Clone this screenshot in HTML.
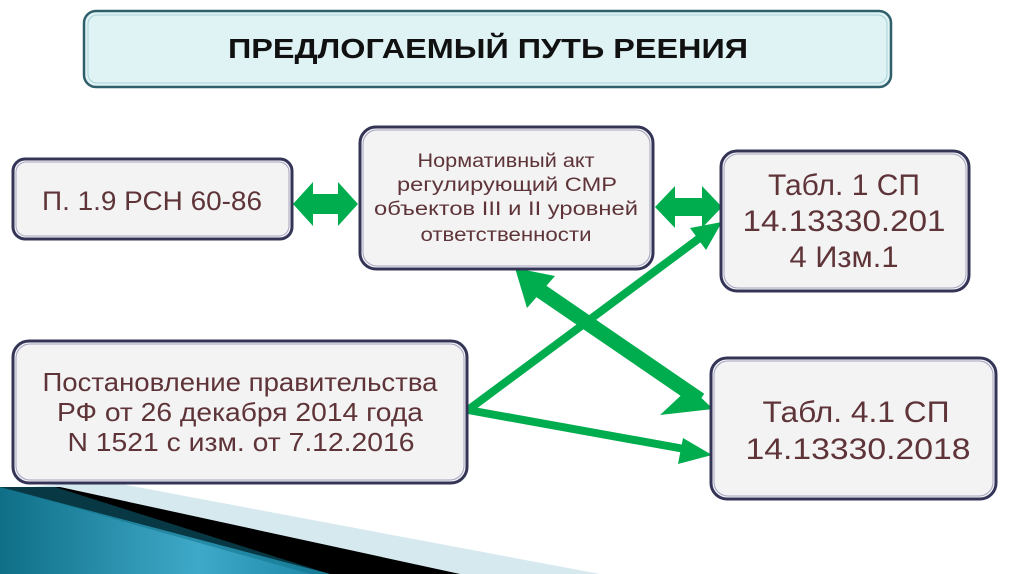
<!DOCTYPE html>
<html><head><meta charset="utf-8"><style>
html,body{margin:0;padding:0;background:#fff;width:1024px;height:574px;overflow:hidden}
svg text{font-family:"Liberation Sans","DejaVu Sans",sans-serif;fill:#5e3438;text-anchor:middle}
</style></head><body>
<svg width="1024" height="574" viewBox="0 0 1024 574" xmlns="http://www.w3.org/2000/svg">
<defs>
<linearGradient id="tg" x1="0" y1="0" x2="1" y2="0">
<stop offset="0" stop-color="#0f6f87"/><stop offset="0.6" stop-color="#3fa9c9"/><stop offset="1" stop-color="#1a86a5"/>
</linearGradient>
</defs>
<polygon points="100,480 600,574 0,574 0,490" fill="#d6e9ef"/>
<polygon points="0,487 60,487 460,574 0,574" fill="#000"/>
<polygon points="0,487 330,574 0,574" fill="url(#tg)"/>
<polygon points="0,487 55,487 330,574 310,574" fill="#0f6f87" opacity="0.5"/>

<rect x="84" y="11" width="807" height="76" rx="12" fill="#dff2f4" stroke="#2f5f6a" stroke-width="2.5"/>
<rect x="88" y="15" width="799" height="68" rx="9" fill="none" stroke="#a8d2da" stroke-width="1"/>
<text x="488" y="58" font-size="28" font-weight="bold" style="fill:#111" textLength="520" lengthAdjust="spacingAndGlyphs">ПРЕДЛОГАЕМЫЙ ПУТЬ РЕЕНИЯ</text>

<g fill="#00ad4e" stroke="none">
<polygon points="293,204 313,182 313,194 338,194 338,182 358,204 338,226 338,214 313,214 313,226"/>
<polygon points="655,207 675,186 675,198 702,198 702,186 722,207 702,228 702,216 675,216 675,228"/>
</g>
<g stroke="#00ad4e" fill="none">
<line x1="532" y1="285" x2="700" y2="400" stroke-width="15"/>
<line x1="468" y1="410" x2="705" y2="234" stroke-width="8"/>
<line x1="468" y1="410" x2="690" y2="450" stroke-width="8"/>
</g>
<g fill="#00ad4e">
<polygon points="515,268 555,276 527,308"/>
<polygon points="713,409 690,387 660,415"/>
<polygon points="722,222 690,228 706,250"/>
<polygon points="712,455 683,438 678,464"/>
</g>

<g fill="#f3f3f4" stroke="#343457" stroke-width="3">
<rect x="13" y="159" width="279" height="80" rx="12"/>
<rect x="360" y="127" width="293" height="142" rx="16"/>
<rect x="721" y="151" width="248" height="140" rx="16"/>
<rect x="13" y="341" width="454" height="142" rx="16"/>
<rect x="711" y="358" width="285" height="141" rx="16"/>
</g>
<g fill="none" stroke="#a3a3c0" stroke-width="1">
<rect x="16" y="162" width="273" height="74" rx="10"/>
<rect x="363" y="130" width="287" height="136" rx="14"/>
<rect x="724" y="154" width="242" height="134" rx="14"/>
<rect x="16" y="344" width="448" height="136" rx="14"/>
<rect x="714" y="361" width="279" height="135" rx="14"/>
</g>

<text x="152" y="210" font-size="27" textLength="220" lengthAdjust="spacingAndGlyphs">П. 1.9 РСН 60-86</text>
<g font-size="19">
<text x="506" y="167" textLength="177" lengthAdjust="spacingAndGlyphs">Нормативный акт</text>
<text x="507" y="191" textLength="220" lengthAdjust="spacingAndGlyphs">регулирующий СМР</text>
<text x="506" y="215" textLength="264" lengthAdjust="spacingAndGlyphs">объектов  III и II уровней</text>
<text x="506" y="241" textLength="171" lengthAdjust="spacingAndGlyphs">ответственности</text>
</g>
<g font-size="30">
<text x="844" y="195" textLength="152" lengthAdjust="spacingAndGlyphs">Табл. 1 СП</text>
<text x="844" y="231" textLength="203" lengthAdjust="spacingAndGlyphs">14.13330.201</text>
<text x="844" y="267" textLength="109" lengthAdjust="spacingAndGlyphs">4 Изм.1</text>
<text x="856" y="422" textLength="187" lengthAdjust="spacingAndGlyphs">Табл. 4.1 СП</text>
<text x="858" y="459" textLength="225" lengthAdjust="spacingAndGlyphs">14.13330.2018</text>
</g>
<g font-size="26">
<text x="240" y="391" textLength="395" lengthAdjust="spacingAndGlyphs">Постановление правительства</text>
<text x="240" y="421" textLength="366" lengthAdjust="spacingAndGlyphs">РФ от 26 декабря 2014 года</text>
<text x="241" y="451" textLength="347" lengthAdjust="spacingAndGlyphs">N 1521 с изм. от 7.12.2016</text>
</g>
</svg>
</body></html>
